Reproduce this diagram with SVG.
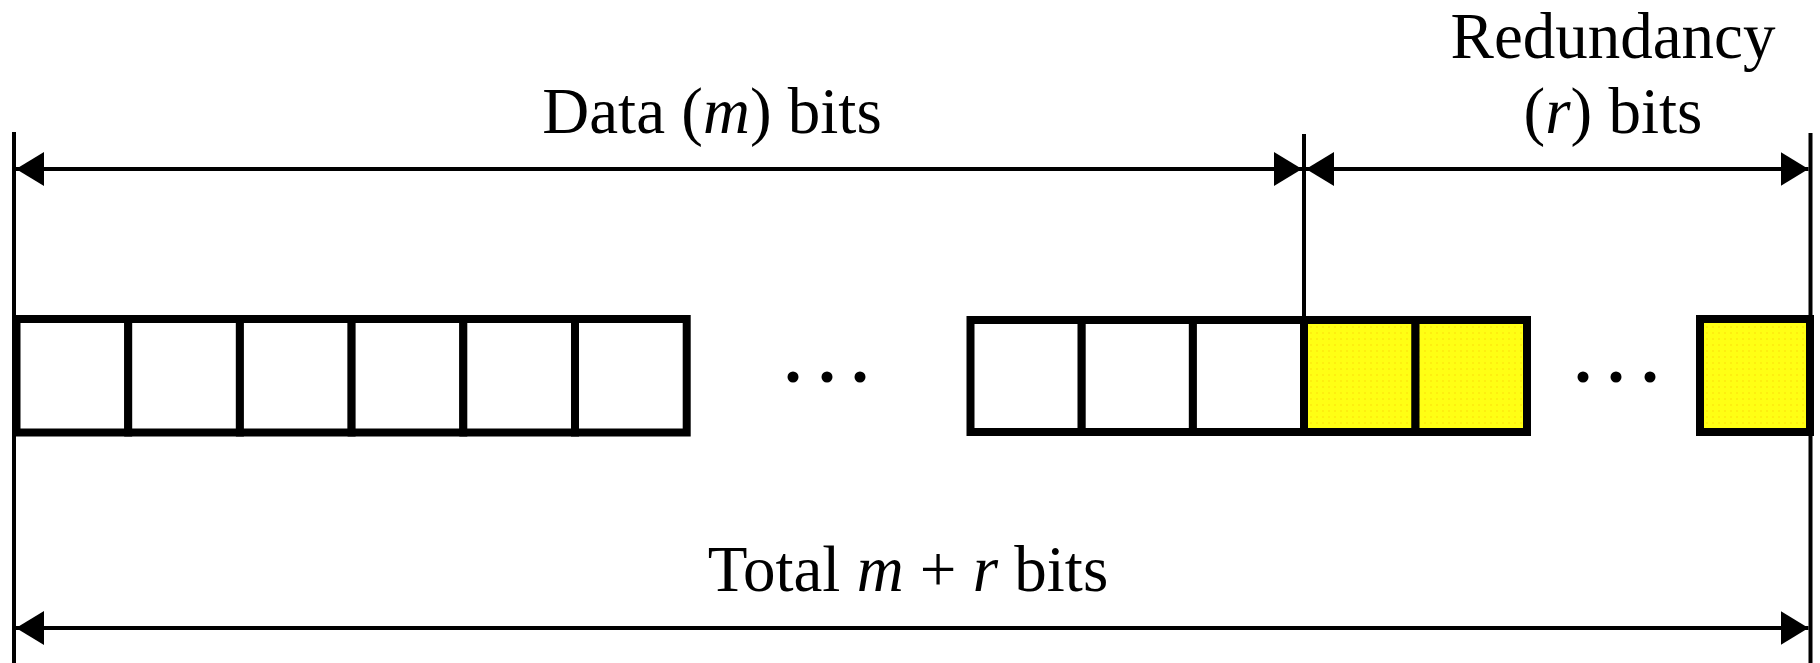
<svg xmlns="http://www.w3.org/2000/svg" width="1820" height="663" viewBox="0 0 1820 663">
  <style>
    .lbl { font-family: "Liberation Serif", "Times New Roman", serif; font-size: 65px; fill: #000; text-anchor: middle; }
    .it { font-style: italic; }
    .cell { stroke: #000; stroke-width: 8; }
    .white { fill: #fff; }
    .yellow { fill: url(#dots); }
    .conn { stroke: #000; stroke-width: 4; fill: none; }
    .dot { fill: #000; }
  </style>
  <defs>
    <pattern id="dots" width="6" height="6" patternUnits="userSpaceOnUse">
      <rect width="6" height="6" fill="#ffff14"/>
      <circle cx="3" cy="3" r="0.7" fill="#f2b400" opacity="0.6"/>
    </pattern>
    <marker id="ah" viewBox="0 0 28 34" markerWidth="28" markerHeight="34" refX="28" refY="17" orient="auto-start-reverse" markerUnits="userSpaceOnUse">
      <path d="M0,0 L28,17 L0,34 Z" fill="#000"/>
    </marker>
  </defs>
  <rect width="1820" height="663" fill="#fff"/>

  <g id="data-group-1">
    <rect class="cell white" x="16.5" y="319" width="111.7" height="113.5"/>
    <rect class="cell white" x="128.2" y="319" width="111.7" height="113.5"/>
    <rect class="cell white" x="239.9" y="319" width="111.7" height="113.5"/>
    <rect class="cell white" x="351.6" y="319" width="111.7" height="113.5"/>
    <rect class="cell white" x="463.3" y="319" width="111.7" height="113.5"/>
    <rect class="cell white" x="575" y="319" width="111.7" height="113.5"/>
  </g>
  <g id="ellipsis-1">
    <circle class="dot" cx="793" cy="377" r="5.5"/>
    <circle class="dot" cx="827" cy="377" r="5.5"/>
    <circle class="dot" cx="860" cy="377" r="5.5"/>
  </g>
  <g id="data-group-2">
    <rect class="cell white" x="970.5" y="320" width="111.2" height="112"/>
    <rect class="cell white" x="1081.7" y="320" width="111.2" height="112"/>
    <rect class="cell white" x="1192.9" y="320" width="111.1" height="112"/>
  </g>
  <g id="redundancy-group-1">
    <rect class="cell yellow" x="1304" y="320" width="111.5" height="112"/>
    <rect class="cell yellow" x="1415.5" y="320" width="111.5" height="112"/>
  </g>
  <g id="ellipsis-2">
    <circle class="dot" cx="1583" cy="377" r="5.5"/>
    <circle class="dot" cx="1616" cy="377" r="5.5"/>
    <circle class="dot" cx="1650" cy="377" r="5.5"/>
  </g>
  <g id="redundancy-group-2">
    <rect class="cell yellow" x="1700" y="319" width="110" height="113"/>
  </g>

  <g id="connectors">
    <line class="conn" x1="14" y1="132" x2="14" y2="663"/>
    <line class="conn" x1="1810.5" y1="133" x2="1810.5" y2="663"/>
    <line class="conn" x1="1304" y1="134" x2="1304" y2="318"/>
    <line class="conn" x1="16" y1="169" x2="1302" y2="169" marker-start="url(#ah)" marker-end="url(#ah)"/>
    <line class="conn" x1="1306" y1="169" x2="1808.5" y2="169" marker-start="url(#ah)" marker-end="url(#ah)"/>
    <line class="conn" x1="16" y1="628" x2="1808.5" y2="628" marker-start="url(#ah)" marker-end="url(#ah)"/>
  </g>

  <g id="labels">
    <text class="lbl" x="712" y="133">Data (<tspan class="it">m</tspan>) bits</text>
    <text class="lbl" x="1613" y="58">Redundancy</text>
    <text class="lbl" x="1613" y="133">(<tspan class="it">r</tspan>) bits</text>
    <text class="lbl" x="908" y="591">Total <tspan class="it">m</tspan> + <tspan class="it">r</tspan> bits</text>
  </g>
</svg>
